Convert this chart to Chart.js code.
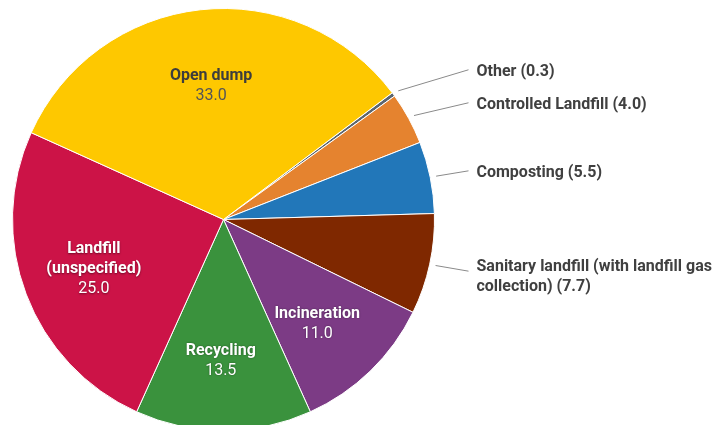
<!DOCTYPE html>
<html>
<head>
<meta charset="utf-8">
<script src="https://cdn.jsdelivr.net/npm/chart.js@4/dist/chart.umd.min.js"></script>
<style>
  html, body { margin: 0; padding: 0; background: #fff; overflow: hidden; }
  #wrap { position: relative; width: 716px; height: 432px; }
</style>
</head>
<body>
<div id="wrap"><canvas id="c"></canvas></div>
<script>
// Data (clockwise order as drawn, starting from the top-right)
const categories = [
  'Other',
  'Controlled Landfill',
  'Composting',
  'Sanitary landfill (with landfill gas collection)',
  'Incineration',
  'Recycling',
  'Landfill (unspecified)',
  'Open dump'
];
const values = [0.3, 4.0, 5.5, 7.7, 11.0, 13.5, 25.0, 33.0];
const sliceColors = ['#5b6670', '#e5832f', '#2277b9', '#7f2800', '#7c3b85', '#3a923d', '#cc1347', '#fec800'];

// Label styling
const FONT = 'Roboto, "Noto Sans", Arial, sans-serif';
const insideThreshold = 10;
const insideAngleShift = 1.15;   // degrees
const insideRadiusFrac = 0.652;
const insideTextDy = 3.5;

function wrapText(ctx, text, maxWidth) {
  const words = text.split(' ');
  const lines = [];
  let cur = '';
  words.forEach(w => {
    const test = cur ? cur + ' ' + w : w;
    if (ctx.measureText(test).width > maxWidth && cur) {
      lines.push(cur);
      cur = w;
    } else cur = test;
  });
  if (cur) lines.push(cur);
  return lines;
}

const sliceLabels = {
  id: 'sliceLabels',
  afterDatasetsDraw(chart) {
    const ctx = chart.ctx;
    const meta = chart.getDatasetMeta(0);
    const outside = [];
    meta.data.forEach((arc, i) => {
      const p = arc.getProps(['x', 'y', 'startAngle', 'endAngle', 'outerRadius'], true);
      const mid = (p.startAngle + p.endAngle) / 2;
      const v = values[i];
      if (v >= insideThreshold) {
        const a = mid + insideAngleShift * Math.PI / 180;
        const cx = p.x + Math.cos(a) * p.outerRadius * insideRadiusFrac;
        const cy = p.y + Math.sin(a) * p.outerRadius * insideRadiusFrac + insideTextDy;
        ctx.save();
        ctx.font = 'bold 16px ' + FONT;
        const lines = wrapText(ctx, categories[i], 110);
        const all = lines.map(t => ({ t, bold: true })).concat([{ t: v.toFixed(1), bold: false }]);
        const lh = 20;
        const dark = i === 7;
        ctx.textAlign = 'center';
        ctx.textBaseline = 'middle';
        if (dark) {
          ctx.fillStyle = '#404040';
        } else {
          ctx.fillStyle = '#ffffff';
          ctx.shadowColor = 'rgba(0,0,0,0.45)';
          ctx.shadowBlur = 2;
          ctx.shadowOffsetY = 0.5;
        }
        all.forEach((ln, k) => {
          ctx.font = (ln.bold ? 'bold ' : '') + '16px ' + FONT;
          if (dark) ctx.fillStyle = ln.bold ? '#3d3d3d' : '#555555';
          ctx.fillText(ln.t, cx, cy + (k - (all.length - 1) / 2) * lh);
        });
        ctx.restore();
      } else {
        outside.push({ i, mid, x: p.x, y: p.y, r: p.outerRadius });
      }
    });
    // outside labels
    outside.forEach(o => { o.ay = o.y + Math.sin(o.mid) * o.r * 1.155; });
    outside.sort((a, b) => a.ay - b.ay);
    const gap = 33;
    for (let k = outside.length - 2; k >= 0; k--) {
      outside[k].ay = Math.min(outside[k].ay, outside[k + 1].ay - gap);
    }
    outside.forEach(o => {
      const sx = o.x + Math.cos(o.mid) * (o.r + 6);
      const sy = o.y + Math.sin(o.mid) * (o.r + 6);
      const ex = o.x + o.r + 34;
      const tx = o.x + o.r + 42;
      ctx.save();
      ctx.strokeStyle = '#8a8a8a';
      ctx.lineWidth = 1;
      ctx.beginPath();
      ctx.moveTo(sx, sy);
      ctx.lineTo(ex, o.ay);
      ctx.stroke();
      ctx.font = 'bold 16px ' + FONT;
      ctx.fillStyle = '#404040';
      ctx.textAlign = 'left';
      ctx.textBaseline = 'middle';
      const text = categories[o.i] + ' (' + values[o.i].toFixed(1) + ')';
      const lines = wrapText(ctx, text, chart.width - tx - 2);
      const y0 = o.ay + 2 - 6 * (lines.length - 1);
      lines.forEach((ln, k) => ctx.fillText(ln, tx, y0 + k * 20));
      ctx.restore();
    });
  }
};

new Chart(document.getElementById('c'), {
  type: 'pie',
  data: {
    labels: categories,
    datasets: [{
      data: values,
      backgroundColor: sliceColors,
      borderColor: '#ffffff',
      borderWidth: 1
    }]
  },
  options: {
    responsive: true,
    maintainAspectRatio: false,
    animation: false,
    rotation: 53.1,
    layout: { padding: { left: 12, right: 281, top: 8, bottom: 1 } },
    plugins: {
      legend: { display: false },
      tooltip: { enabled: false }
    }
  },
  plugins: [sliceLabels]
});
</script>
</body>
</html>
